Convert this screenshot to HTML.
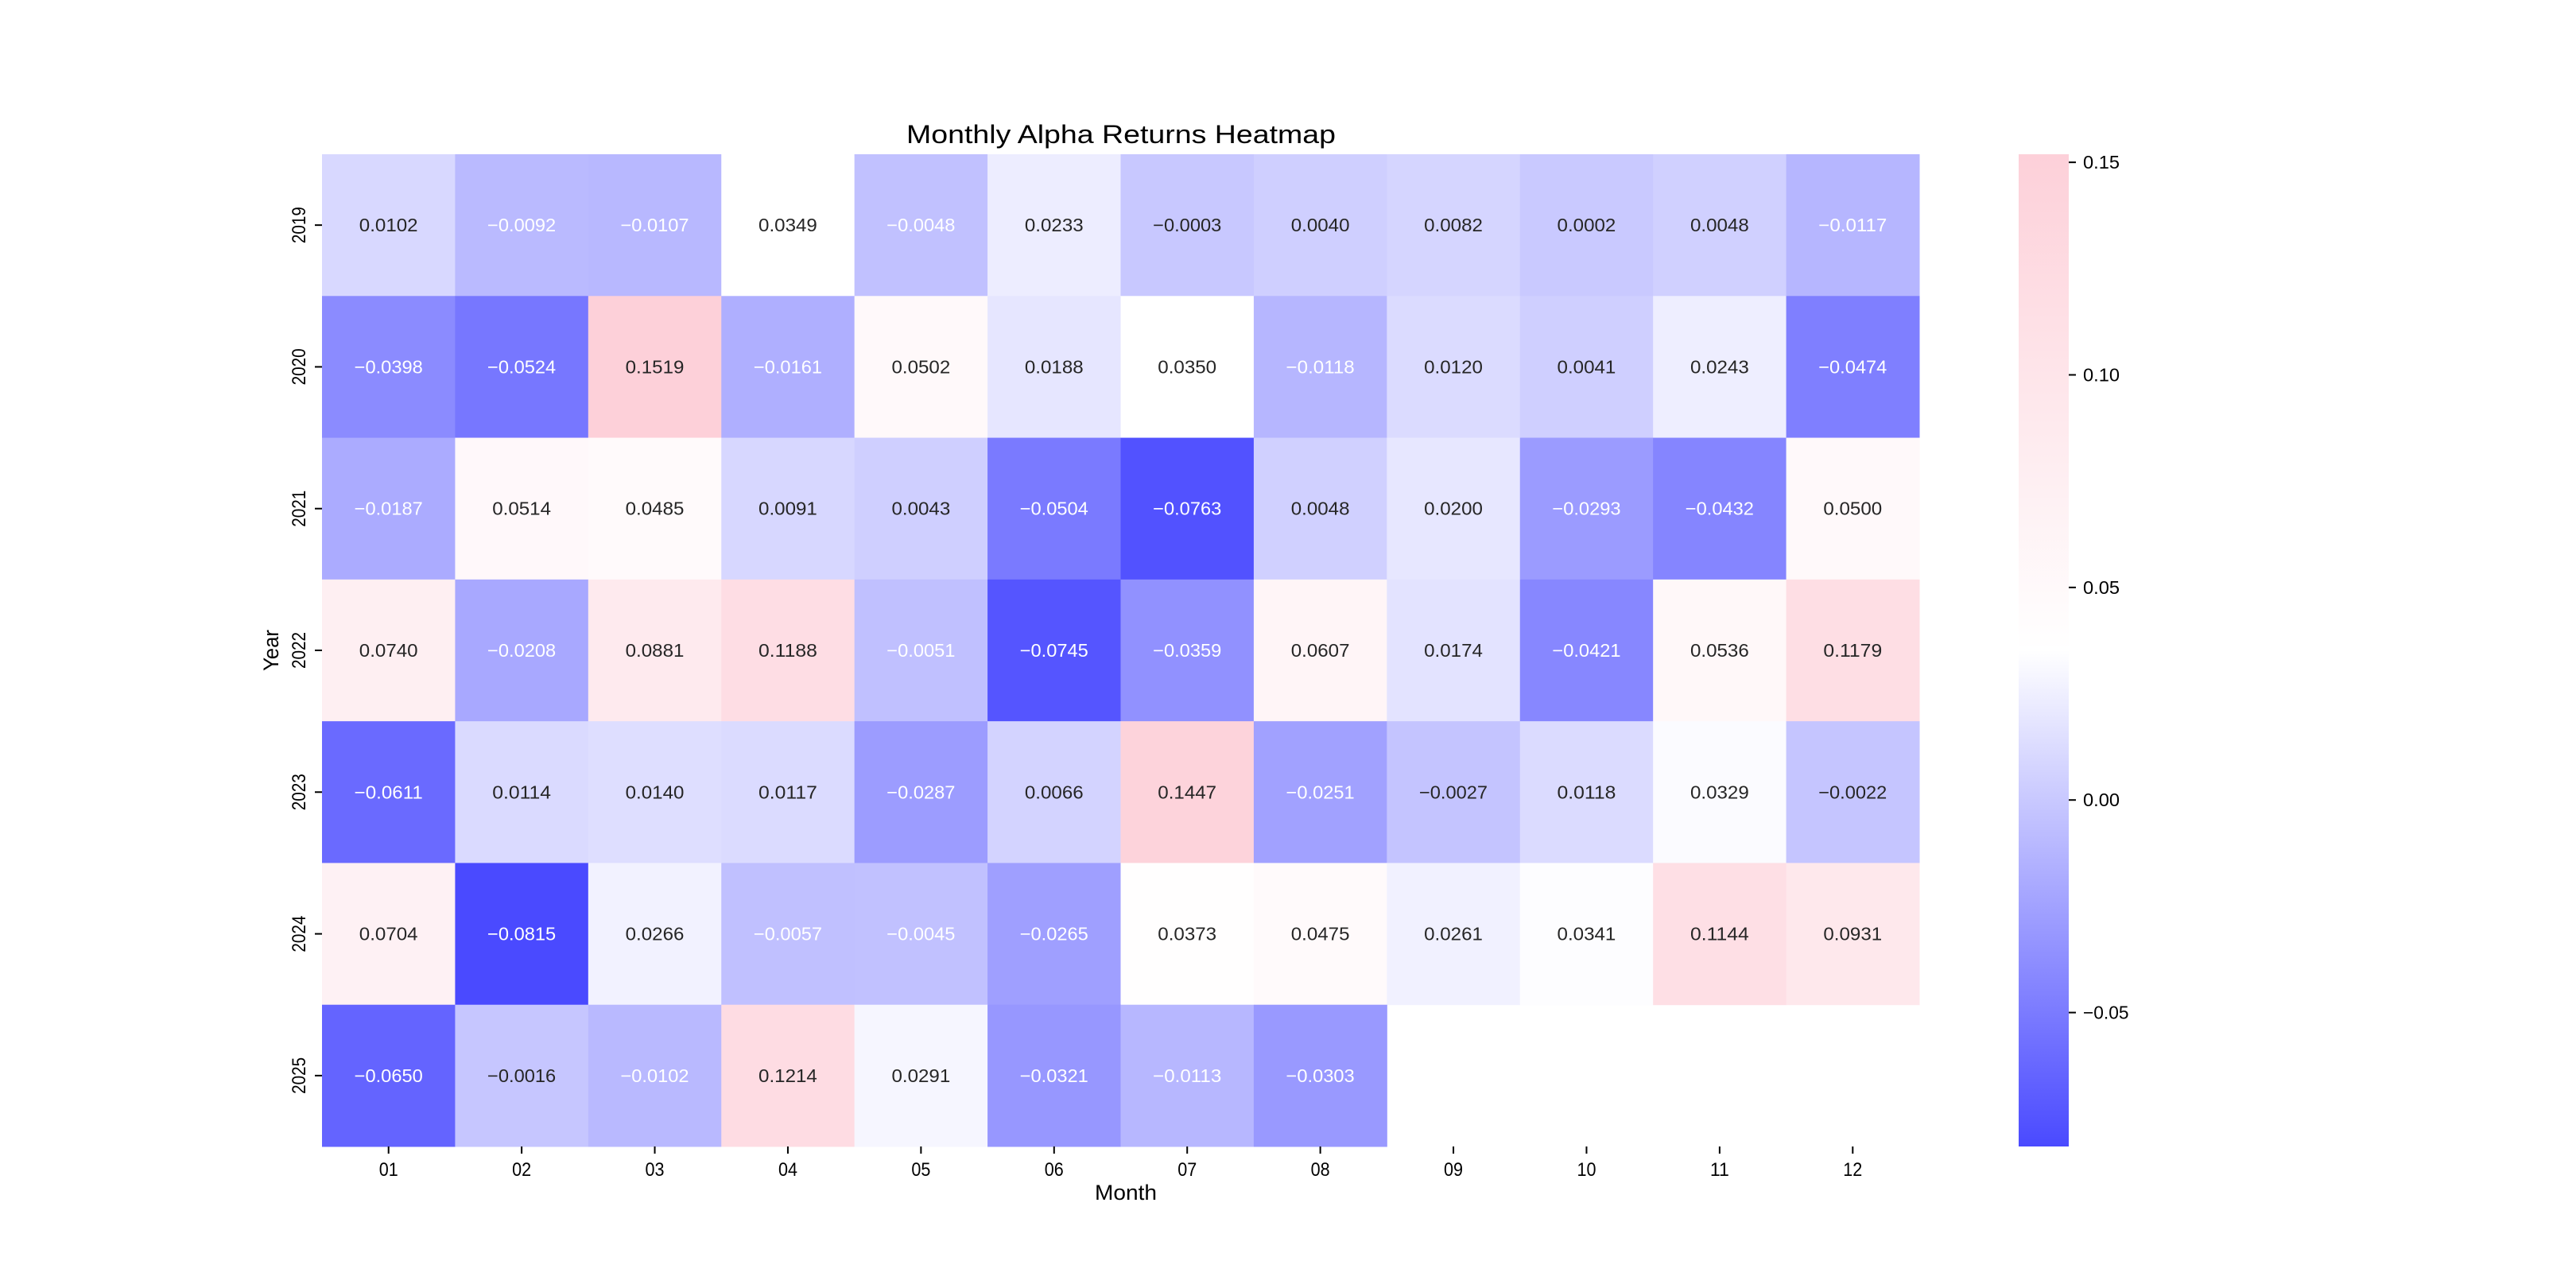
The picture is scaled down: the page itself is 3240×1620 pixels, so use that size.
<!DOCTYPE html>
<html><head><meta charset="utf-8"><style>
html,body{margin:0;padding:0;background:#fff;}
svg{display:block;}
text{font-family:"Liberation Sans","WenQuanYi Zen Hei",sans-serif;}
</style></head><body>
<svg id="chart" width="3240" height="1620" viewBox="0 0 3240 1620" xmlns="http://www.w3.org/2000/svg">
<rect width="3240" height="1620" fill="#fff"/>
<text x="1410" y="180" font-size="32" text-anchor="middle" textLength="540" lengthAdjust="spacingAndGlyphs">Monthly Alpha Returns Heatmap</text>
<g id="cells"></g>
<g id="axes"></g>
<text x="1416" y="1509" font-size="27" text-anchor="middle" textLength="78" lengthAdjust="spacingAndGlyphs">Month</text>
<text transform="translate(350,818) rotate(-90)" font-size="27" text-anchor="middle" textLength="52" lengthAdjust="spacingAndGlyphs">Year</text>
<defs><linearGradient id="cbgrad" x1="0" y1="1" x2="0" y2="0">
<stop offset="0" stop-color="rgb(74,74,255)"/><stop offset="0.5" stop-color="#fff"/><stop offset="1" stop-color="rgb(253,208,217)"/>
</linearGradient></defs>
<rect x="2539" y="194" width="63" height="1248" fill="url(#cbgrad)"/>
<g id="cbticks"></g>
</svg>
<script>
const months = ["01","02","03","04","05","06","07","08","09","10","11","12"];
const years = ["2019","2020","2021","2022","2023","2024","2025"];
const r2019 = [0.0102,-0.0092,-0.0107,0.0349,-0.0048,0.0233,-0.0003,0.0040,0.0082,0.0002,0.0048,-0.0117];
const r2020 = [-0.0398,-0.0524,0.1519,-0.0161,0.0502,0.0188,0.0350,-0.0118,0.0120,0.0041,0.0243,-0.0474];
const r2021 = [-0.0187,0.0514,0.0485,0.0091,0.0043,-0.0504,-0.0763,0.0048,0.0200,-0.0293,-0.0432,0.0500];
const r2022 = [0.0740,-0.0208,0.0881,0.1188,-0.0051,-0.0745,-0.0359,0.0607,0.0174,-0.0421,0.0536,0.1179];
const r2023 = [-0.0611,0.0114,0.0140,0.0117,-0.0287,0.0066,0.1447,-0.0251,-0.0027,0.0118,0.0329,-0.0022];
const r2024 = [0.0704,-0.0815,0.0266,-0.0057,-0.0045,-0.0265,0.0373,0.0475,0.0261,0.0341,0.1144,0.0931];
const r2025 = [-0.0650,-0.0016,-0.0102,0.1214,0.0291,-0.0321,-0.0113,-0.0303,null,null,null,null];
const cbTicks = [0.15,0.10,0.05,0.00,-0.05];
const cbLabels = ["0.15","0.10","0.05","0.00","\u22120.05"];
const vmin = -0.0815, vmax = 0.1519;

const rows = [r2019,r2020,r2021,r2022,r2023,r2024,r2025];
const NS="http://www.w3.org/2000/svg";
const X0=405, X1=2414, Y0=194, Y1=1442;
const cw=(X1-X0)/months.length, ch=(Y1-Y0)/years.length;
const xPos=i=>X0+i*cw, yPos=j=>Y0+j*ch;
const cbY=v=>Y1-(v-vmin)/(vmax-vmin)*(Y1-Y0);
function color(v){
  const t=(v-vmin)/(vmax-vmin);
  let r,g,b;
  if(t<0.5){const f=t/0.5;r=74+f*181;g=r;b=255;}
  else{const f=(t-0.5)/0.5;r=255-f*2;g=255-f*47;b=255-f*38;}
  return `rgb(${Math.round(r)},${Math.round(g)},${Math.round(b)})`;
}
function mk(tag,attrs,parent){const e=document.createElementNS(NS,tag);for(const k in attrs)e.setAttribute(k,attrs[k]);parent.appendChild(e);return e;}
const cells=document.getElementById('cells'), axes=document.getElementById('axes'), cbt=document.getElementById('cbticks');
rows.forEach((row,j)=>{
  row.forEach((v,i)=>{
    if(v===null) return;
    const r=mk('rect',{x:xPos(i),y:yPos(j),width:cw+0.5,height:ch+0.5,fill:color(v)},cells);
    
    
    const s=(v<0?'\u2212':'')+Math.abs(v).toFixed(4);
    const t=mk('text',{x:xPos(i)+cw/2,y:yPos(j)+ch/2+8,'font-size':23,'text-anchor':'middle',fill:(v< -0.004?'#fff':'#262626'),textLength:s.length*12.3,lengthAdjust:'spacingAndGlyphs'},cells);
    t.textContent=s;
    
    
  });
});
months.forEach((m,i)=>{
  const cx=xPos(i)+cw/2;
  const l=mk('line',{x1:cx,x2:cx,y1:Y1,y2:Y1+9,stroke:'#000','stroke-width':2},axes);
  
  
  const t=mk('text',{x:cx,y:Y1+37,'font-size':24,'text-anchor':'middle',textLength:24,lengthAdjust:'spacingAndGlyphs'},axes);
  t.textContent=m;
  
  
});
years.forEach((y,j)=>{
  const cy=yPos(j)+ch/2;
  const l=mk('line',{x1:X0-9,x2:X0,y1:cy,y2:cy,stroke:'#000','stroke-width':2},axes);
  
  
  const t=mk('text',{transform:`translate(384,${cy}) rotate(-90)`,'font-size':24,'text-anchor':'middle',textLength:46,lengthAdjust:'spacingAndGlyphs'},axes);
  t.textContent=y;
  
  
});
cbTicks.forEach((v,k)=>{
  const y=cbY(v);
  const l=mk('line',{x1:2602,x2:2611,y1:y,y2:y,stroke:'#000','stroke-width':2},cbt);
  
  
  const t=mk('text',{x:2620,y:y+8,'font-size':23,textLength:cbLabels[k].length*11.5,lengthAdjust:'spacingAndGlyphs'},cbt);
  t.textContent=cbLabels[k];
  
  
});
</script>
</body></html>
